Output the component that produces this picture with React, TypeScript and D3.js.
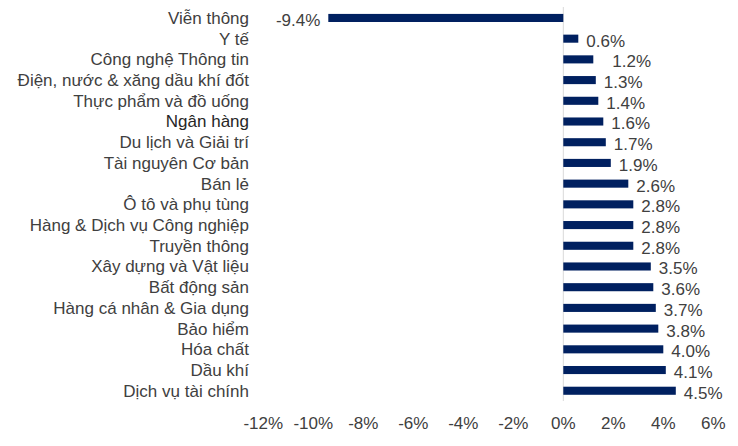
import React from "react";
import * as d3 from "d3";

const categories = [
  "Viễn thông",
  "Y tế",
  "Công nghệ Thông tin",
  "Điện, nước & xăng dầu khí đốt",
  "Thực phẩm và đồ uống",
  "Ngân hàng",
  "Du lịch và Giải trí",
  "Tài nguyên Cơ bản",
  "Bán lẻ",
  "Ô tô và phụ tùng",
  "Hàng & Dịch vụ Công nghiệp",
  "Truyền thông",
  "Xây dựng và Vật liệu",
  "Bất động sản",
  "Hàng cá nhân & Gia dụng",
  "Bảo hiểm",
  "Hóa chất",
  "Dầu khí",
  "Dịch vụ tài chính",
];
const values = [-9.4, 0.6, 1.2, 1.3, 1.4, 1.6, 1.7, 1.9, 2.6, 2.8, 2.8, 2.8, 3.5, 3.6, 3.7, 3.8, 4.0, 4.1, 4.5];
const ticks = [-12, -10, -8, -6, -4, -2, 0, 2, 4, 6];

export default function App() {
  const W = 738, H = 446;
  const x = d3.scaleLinear().domain([-12, 6]).range([263.3, 713.3]);
  const y = d3.scaleBand<string>().domain(categories).range([7.6, 401.1]).paddingInner(0.61).paddingOuter(0.305);
  const font = "'Liberation Sans', Arial, sans-serif";
  const textColor = "#404040";
  const fmt = (v: number) => `${v.toFixed(1)}%`;
  return (
    <svg width={W} height={H} style={{ position: "absolute", left: 0, top: 0 }} fontFamily={font}>
      <rect width={W} height={H} fill="#fff" />
      <line x1={x(0)} x2={x(0)} y1={7} y2={401} stroke="#d9d9d9" strokeWidth={1} />
      {categories.map((c, i) => {
        const v = values[i];
        const y0 = y(c)!;
        const bw = y.bandwidth();
        const cy = y0 + bw / 2;
        const gap = c === "Công nghệ Thông tin" ? 19 : 8;
        return (
          <g key={c}>
            <rect x={Math.min(x(0), x(v))} y={y0} width={Math.abs(x(v) - x(0))} height={bw} fill="#002060" />
            <text x={249} y={cy} dy="0.35em" textAnchor="end" fontSize={17} fill={c === "Ngân hàng" ? "#262626" : textColor}>{c}</text>
            <text
              x={v < 0 ? x(v) - 8 : x(v) + gap}
              y={cy + 2}
              dy="0.35em"
              textAnchor={v < 0 ? "end" : "start"}
              fontSize={17}
              fill={textColor}
            >
              {fmt(v)}
            </text>
          </g>
        );
      })}
      {ticks.map((t) => (
        <text key={t} x={x(t)} y={423} dy="0.35em" textAnchor="middle" fontSize={17} fill={textColor}>{`${t}%`}</text>
      ))}
    </svg>
  );
}
